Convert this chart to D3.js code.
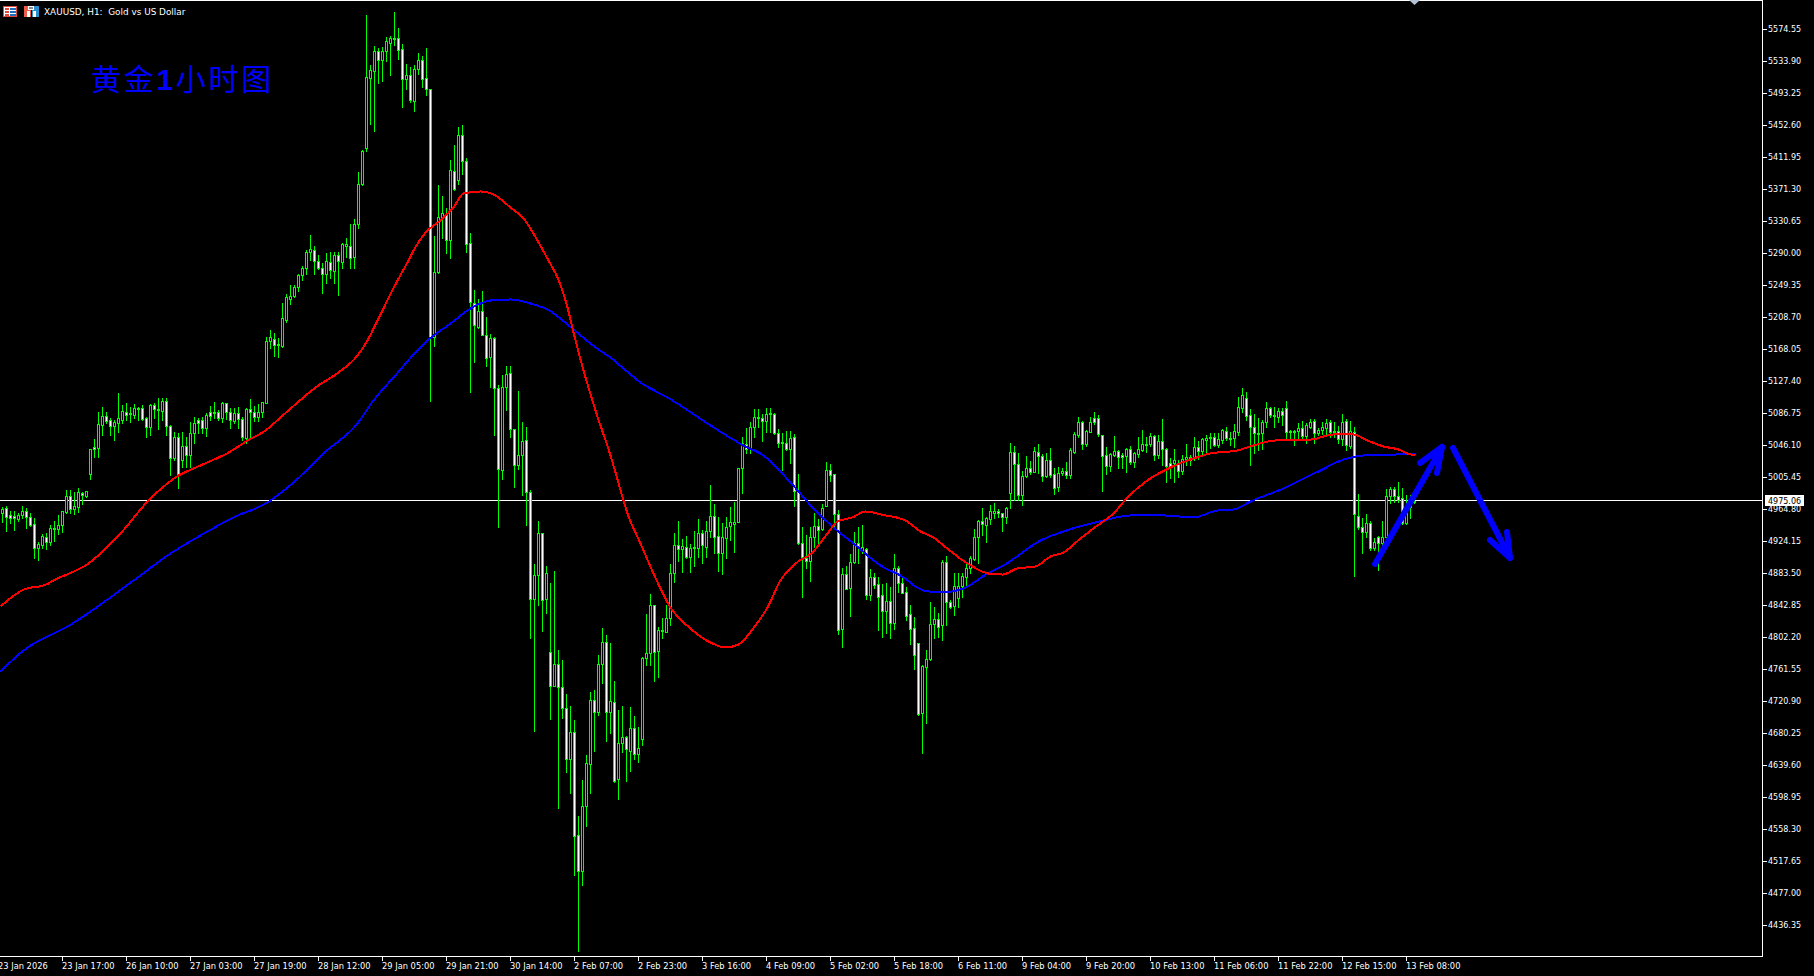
<!DOCTYPE html>
<html><head><meta charset="utf-8">
<script src="https://cdn.jsdelivr.net/npm/d3@7"></script>
<style>
html,body{margin:0;padding:0;background:#000;overflow:hidden}
svg{display:block}
text{font-family:"DejaVu Sans",sans-serif;font-size:8px;fill:#fff}
</style></head><body>
<svg id="c" width="1814" height="976"></svg>
<script>
const chartTitle = "XAUUSD, H1:  Gold vs US Dollar";
const noteCn = ["黄金", "1", "小时图"];
const lastPrice = 4975.06;

const priceTicks = [5574.55,5533.90,5493.25,5452.60,5411.95,5371.30,5330.65,5290.00,5249.35,5208.70,5168.05,5127.40,5086.75,5046.10,5005.45,4964.80,4924.15,4883.50,4842.85,4802.20,4761.55,4720.90,4680.25,4639.60,4598.95,4558.30,4517.65,4477.00,4436.35];
const timeLabels = ["23 Jan 2026","23 Jan 17:00","26 Jan 10:00","27 Jan 03:00","27 Jan 19:00","28 Jan 12:00","29 Jan 05:00","29 Jan 21:00","30 Jan 14:00","2 Feb 07:00","2 Feb 23:00","3 Feb 16:00","4 Feb 09:00","5 Feb 02:00","5 Feb 18:00","6 Feb 11:00","9 Feb 04:00","9 Feb 20:00","10 Feb 13:00","11 Feb 06:00","11 Feb 22:00","12 Feb 15:00","13 Feb 08:00"];
const timeBars = [-1,15,31,47,63,79,95,111,127,143,159,175,191,207,223,239,255,271,287,303,319,335,351];

const opens = [
4960,4966,4957,4956,4952,4957,4962,4955,4946,4915,
4919,4929,4923,4941,4939,4945,4961,4981,4965,4967,
4985,4981,5009,5044,5042,5072,5083,5078,5070,5074,
5078,5088,5086,5084,5092,5093,5080,5069,5097,5091,
5089,5102,5070,5030,5056,5027,5045,5033,5061,5078,
5078,5068,5088,5087,5088,5080,5099,5088,5077,5087,
5079,5055,5092,5088,5082,5088,5099,5178,5181,5173,
5172,5205,5232,5235,5247,5262,5271,5291,5294,5280,
5271,5263,5279,5267,5287,5279,5299,5299,5285,5327,
5378,5423,5512,5521,5547,5535,5547,5557,5562,5563,
5549,5511,5516,5483,5524,5535,5512,5498,5183,5266,
5336,5340,5307,5394,5383,5440,5407,5303,5227,5196,
5216,5186,5158,5182,5118,5014,5120,5138,5066,5021,
5033,5052,4986,4850,4881,4934,4850,4783,4740,4768,
4739,4712,4647,4682,4551,4505,4588,4641,4722,4707,
4768,4796,4707,4720,4622,4668,4675,4657,4687,4654,
4673,4776,4782,4843,4784,4810,4809,4826,4884,4919,
4914,4917,4904,4915,4915,4934,4917,4937,4956,4930,
4909,4928,4943,4946,4948,5017,5047,5042,5069,5080,
5080,5077,5086,5086,5061,5049,5049,5041,5056,4986,
4922,4903,4899,4929,4943,4939,4969,5014,5009,4958,
4812,4882,4864,4898,4922,4913,4914,4856,4878,4870,
4856,4835,4848,4820,4890,4871,4859,4831,4814,4795,
4706,4764,4774,4819,4825,4817,4897,4847,4842,4852,
4867,4878,4890,4901,4929,4950,4945,4952,4960,4962,
4960,4955,4985,5037,5022,4983,5007,5017,5012,5037,
5032,5007,5027,5009,4993,5011,5013,5008,5037,5059,
5075,5047,5063,5080,5080,5059,5033,5019,5033,5039,
5033,5032,5041,5025,5035,5040,5046,5047,5058,5033,
5051,5041,5023,5023,5023,5013,5028,5031,5030,5044,
5039,5052,5055,5056,5046,5052,5064,5055,5055,5063,
5093,5106,5084,5069,5060,5061,5075,5093,5084,5082,
5089,5093,5063,5064,5064,5068,5058,5069,5077,5061,
5065,5068,5075,5063,5064,5054,5077,5045,5063,4956,
4942,4936,4947,4915,4929,4922,4929,4981,4990,4981,
4979,4947,4967,4974];
const highs = [
4967,4969,4962,4962,4960,4969,4966,4960,4953,4923,
4933,4934,4945,4950,4957,4962,4989,4989,4986,4991,
4986,4988,5041,5054,5088,5094,5088,5080,5078,5112,
5097,5099,5094,5098,5094,5097,5082,5098,5099,5106,
5106,5106,5072,5063,5061,5063,5056,5075,5082,5080,
5082,5087,5096,5101,5091,5101,5099,5093,5093,5094,
5082,5093,5105,5096,5098,5101,5183,5192,5188,5182,
5227,5238,5249,5249,5263,5273,5294,5313,5299,5287,
5277,5290,5291,5291,5291,5303,5309,5327,5333,5393,
5421,5592,5529,5553,5550,5552,5564,5566,5596,5576,
5556,5530,5526,5529,5544,5540,5550,5498,5312,5376,
5362,5347,5408,5427,5450,5453,5411,5315,5243,5232,
5242,5209,5187,5183,5122,5135,5146,5146,5066,5115,
5075,5069,4989,4895,4950,4934,4892,4871,4886,4786,
4773,4730,4715,4697,4575,4621,4652,4732,4735,4779,
4814,4805,4795,4746,4710,4715,4676,4713,4702,4688,
4777,4831,4857,4843,4815,4826,4843,4895,4934,4950,
4927,4931,4920,4937,4952,4938,4950,4995,4971,4955,
4947,4955,4967,4974,5017,5056,5068,5075,5092,5092,
5086,5093,5093,5087,5066,5061,5064,5064,5060,5009,
4942,4932,4942,4960,4952,4971,5025,5022,5009,4964,
4890,4892,4908,4936,4942,4945,4915,4889,4884,4878,
4870,4871,4866,4908,4892,4877,4866,4843,4828,4795,
4767,4786,4847,4840,4833,4900,4905,4849,4884,4884,
4884,4895,4905,4939,4951,4966,4955,4970,4972,4965,
4960,4967,5049,5045,5036,5013,5032,5026,5044,5047,
5035,5036,5042,5017,5018,5017,5025,5042,5063,5082,
5077,5065,5082,5088,5084,5059,5044,5036,5058,5040,
5036,5042,5045,5037,5056,5065,5056,5061,5059,5059,
5079,5042,5030,5041,5027,5033,5047,5033,5056,5051,
5055,5059,5061,5061,5061,5066,5069,5063,5073,5107,
5118,5113,5092,5086,5080,5078,5101,5094,5094,5093,
5093,5102,5065,5065,5074,5077,5074,5079,5079,5068,
5075,5079,5078,5075,5070,5086,5079,5077,5069,4984,
4953,4958,4950,4928,4931,4950,4990,4993,4993,4999,
4991,4983,4983,4983];
const lows = [
4948,4937,4947,4938,4950,4953,4941,4943,4903,4900,
4915,4914,4919,4924,4933,4936,4960,4960,4958,4961,
4971,4980,5003,5031,5031,5059,5074,5059,5052,5063,
5074,5078,5075,5080,5078,5078,5056,5059,5080,5066,
5078,5059,5008,5027,4991,5018,5018,5018,5049,5061,
5061,5058,5078,5080,5078,5075,5079,5068,5074,5068,
5052,5049,5056,5077,5077,5082,5099,5169,5159,5158,
5171,5202,5225,5234,5242,5256,5263,5281,5263,5270,
5239,5252,5258,5252,5237,5271,5285,5271,5271,5322,
5376,5420,5454,5445,5506,5508,5534,5516,5554,5536,
5475,5498,5482,5470,5517,5501,5491,5102,5172,5265,
5309,5290,5284,5370,5378,5390,5291,5113,5152,5195,
5186,5146,5120,5059,4942,5003,5091,5056,4993,5016,
4983,4945,4801,4683,4843,4810,4833,4698,4740,4585,
4699,4631,4604,4500,4403,4487,4562,4604,4657,4703,
4744,4670,4680,4618,4596,4656,4619,4632,4647,4643,
4665,4767,4767,4746,4751,4801,4809,4817,4872,4899,
4885,4903,4885,4892,4904,4896,4904,4929,4909,4886,
4882,4903,4925,4910,4948,4985,5036,5036,5056,5069,
5051,5063,5063,5060,5044,5014,5040,5023,4969,4920,
4853,4890,4873,4917,4922,4938,4969,5000,4942,4806,
4790,4863,4829,4896,4896,4909,4850,4849,4864,4811,
4802,4807,4801,4812,4859,4858,4824,4793,4762,4703,
4655,4693,4773,4801,4802,4798,4817,4839,4830,4840,
4853,4866,4884,4900,4896,4932,4923,4946,4953,4955,
4937,4947,4966,4976,4976,4970,5006,5009,5012,5011,
5000,5006,5006,4984,4988,5008,5004,5004,5036,5056,
5041,5045,5063,5073,5058,4988,5009,5013,5032,5017,
5017,5012,5022,5018,5031,5039,5037,5045,5027,5030,
5021,4999,5004,4999,5006,5009,5021,5021,5027,5028,
5033,5036,5042,5045,5044,5049,5052,5046,5044,5059,
5088,5078,5021,5036,5040,5041,5069,5082,5069,5075,
5072,5052,5055,5046,5052,5055,5049,5068,5049,5059,
5060,5059,5056,5056,5049,5046,5040,5042,4880,4939,
4909,4929,4913,4913,4887,4913,4929,4972,4974,4974,
4946,4946,4953,4972];
const closes = [
4965,4955,4953,4953,4957,4962,4955,4945,4915,4920,
4931,4923,4941,4939,4945,4962,4981,4965,4969,4986,
4983,4988,5041,5041,5073,5083,5077,5070,5075,5080,
5089,5084,5087,5093,5093,5079,5069,5097,5092,5092,
5102,5070,5030,5056,5008,5045,5033,5061,5074,5074,
5068,5084,5083,5088,5080,5099,5088,5078,5087,5079,
5056,5092,5088,5082,5088,5101,5178,5183,5173,5174,
5207,5234,5235,5247,5262,5271,5291,5295,5280,5271,
5263,5280,5268,5287,5280,5301,5301,5284,5327,5378,
5420,5514,5522,5547,5535,5547,5559,5563,5563,5548,
5511,5516,5484,5524,5535,5511,5498,5183,5266,5336,
5341,5307,5395,5371,5440,5407,5301,5228,5199,5216,
5186,5157,5182,5118,5016,5120,5136,5066,5021,5033,
5051,4986,4850,4881,4934,4849,4884,4740,4768,4739,
4712,4647,4682,4549,4505,4588,4642,4722,4707,4768,
4796,4707,4721,4619,4668,4675,4660,4687,4654,4661,
4776,4782,4843,4783,4811,4811,4826,4884,4919,4914,
4918,4904,4915,4916,4934,4919,4937,4956,4929,4909,
4929,4942,4948,4948,5017,5049,5041,5069,5082,5082,
5077,5086,5087,5061,5049,5050,5041,5055,4988,4922,
4904,4899,4929,4943,4938,4966,5014,5008,4958,4811,
4882,4863,4898,4922,4917,4917,4856,4878,4868,4853,
4835,4848,4820,4890,4871,4858,4829,4812,4779,4704,
4765,4774,4819,4825,4815,4897,4847,4840,4867,4867,
4880,4890,4903,4929,4950,4946,4953,4962,4962,4960,
4955,4966,5037,5022,4983,5007,5017,5012,5039,5032,
5007,5027,5008,4991,5011,5013,5008,5040,5060,5075,
5047,5064,5075,5075,5060,5032,5019,5035,5039,5031,
5031,5041,5025,5036,5041,5047,5047,5058,5033,5051,
5041,5019,5019,5027,5013,5028,5031,5027,5044,5039,
5054,5055,5056,5046,5054,5065,5055,5054,5064,5094,
5110,5083,5069,5061,5061,5075,5093,5084,5083,5089,
5084,5063,5064,5063,5068,5058,5072,5075,5061,5065,
5069,5074,5063,5064,5054,5075,5046,5064,4958,4942,
4936,4947,4915,4923,4922,4929,4981,4990,4981,4976,
4947,4967,4974,4975.06];

const redBars = [-0.5,5.25,11,12.75,21.5,24.5,29.5,36.5,40,43.25,49.5,57,61.25,65.75,69.5,73.75,78.25,84,88.75,91.25,93.75,98.75,101.5,102.75,106,109.5,112.75,115.25,119.5,122.75,127,130.25,133.75,136.5,138.75,141.25,142.75,145.25,148.25,152,155.25,156,159.5,162.75,167,172,176.5,180.75,184,187.5,191.25,194.5,198.25,202.5,206.25,208.75,212.5,215.75,219.5,225.75,229.5,232.75,235.25,241.25,246.5,250,253.75,258.25,262,265.25,269.5,273.75,277.75,281.25,286.25,292,297.75,302,308.75,312.75,316.5,321.25,327,332.75,337.75,341.25,345.25,349,351.25,353.25];
const redValues = [4841.6,4863,4869.6,4874.6,4896.2,4908.9,4934.3,4976.2,4992.8,5005.5,5020.7,5038.5,5052.4,5065.2,5081.7,5100.7,5119.8,5138.8,5160.4,5179.5,5204.9,5255.7,5281.1,5293.8,5318,5332,5348.4,5366.2,5368.8,5365,5348.4,5334.5,5306.5,5281.1,5259.5,5221.4,5189.7,5141.4,5090.6,5033.4,4976.2,4963.5,4921.6,4883.5,4840.3,4813.6,4797.1,4789.5,4793.3,4812.4,4840.3,4874.6,4896.2,4910.2,4934.3,4949.6,4954.7,4962.3,4958.5,4950.8,4936.9,4929.2,4919.1,4896.2,4883.5,4882.2,4889.9,4892.4,4905.1,4910.2,4928,4944.5,4959.8,4980.1,5001.8,5018.2,5029.6,5036,5039.8,5046.1,5051.2,5053.7,5053.7,5060.1,5060.1,5052.4,5044.8,5041,5035.9,5033.4];
const blueBars = [-0.5,5.25,16.75,32.75,41.25,49.5,57.75,66.25,72.75,80.25,88.75,92.75,97.75,106.25,112,117,122,127,132,136.25,142.5,148.25,152,155.25,159.5,166.25,169.5,176.25,185.25,190.25,197,202.75,207.75,212.75,219.5,224.5,230.25,234.5,240.25,246.25,250.25,259.5,265.25,275.25,282,290.25,297.75,303.75,307.75,312,320.25,329.5,335.25,340.25,349,353.25];
const blueValues = [4759,4785.7,4817.5,4874.6,4906.4,4931.8,4954.7,4973.7,4999.1,5036,5074.1,5103.3,5132.5,5179.5,5201,5220.1,5230.3,5231.6,5226.5,5218.9,5194.7,5170.6,5157.9,5143.9,5126.2,5107.1,5096.9,5074.1,5046.1,5033.4,4999.1,4966.1,4942,4921.6,4893.7,4881,4861.9,4859.4,4864.4,4883.5,4893.7,4925.4,4936.9,4950.8,4957.2,4957.2,4954.7,4963.5,4964.8,4975,4991.5,5014.4,5028.3,5033.4,5034.7,5034.7];

const arrowUp = [[343.25,4895],[360,5043.6]];
const arrowUpHead = [[354.5,5023.2],[360,5043.6],[358.75,5010.5]];
const arrowDown = [[362.75,5042.3],[377,4902.6]];
const arrowDownHead = [[372,4925.4],[377,4902.6],[376.25,4935.6]];

const svg = d3.select("#c");
const x = d3.scaleLinear().domain([0,1]).range([2,6]);
const y = d3.scaleLinear().domain([priceTicks[0],priceTicks[priceTicks.length-1]]).range([29,925]);
const ry = v => Math.round(y(v));
const GREEN = "#00ff00";

const bars = d3.range(opens.length);

// frame + last price line (behind the candles)
const frame = svg.append("g").attr("shape-rendering","crispEdges");
frame.append("rect").attr("x",0).attr("y",0).attr("width",1763).attr("height",1).attr("fill","#fff");
frame.append("rect").attr("x",1762).attr("y",0).attr("width",1).attr("height",957).attr("fill","#fff");
frame.append("rect").attr("x",0).attr("y",956).attr("width",1763).attr("height",1).attr("fill","#fff");
frame.append("rect").attr("x",0).attr("y",ry(lastPrice)-1).attr("width",1762).attr("height",1).attr("fill","#fff");

// candles
const cg = svg.append("g").attr("shape-rendering","crispEdges");
cg.selectAll("rect.w").data(bars).join("rect").attr("class","w")
  .attr("x",i=>x(i)).attr("width",1)
  .attr("y",i=>ry(highs[i])).attr("height",i=>ry(lows[i])-ry(highs[i])+1)
  .attr("fill",GREEN);
const top_ = i=>ry(Math.max(opens[i],closes[i]));
const bot_ = i=>ry(Math.min(opens[i],closes[i]));
cg.selectAll("rect.b").data(bars).join("rect").attr("class","b")
  .attr("x",i=>x(i)-1).attr("width",3)
  .attr("y",top_).attr("height",i=>bot_(i)-top_(i)+1)
  .attr("fill",GREEN);
cg.selectAll("rect.f").data(bars.filter(i=>bot_(i)-top_(i)>1)).join("rect").attr("class","f")
  .attr("x",i=>x(i)).attr("width",1)
  .attr("y",i=>top_(i)+1).attr("height",i=>bot_(i)-top_(i)-1)
  .attr("fill",i=>closes[i]<opens[i]?"#ffffff":"#000000");

// moving averages
const ma = d3.line().x(d=>x(d[0])+.5).y(d=>y(d[1])+.5).curve(d3.curveMonotoneX);
svg.append("path").attr("d",ma(d3.zip(blueBars,blueValues))).attr("fill","none").attr("stroke","#0000ff").attr("stroke-width",2).attr("shape-rendering","crispEdges");
svg.append("path").attr("d",ma(d3.zip(redBars,redValues))).attr("fill","none").attr("stroke","#ff0000").attr("stroke-width",2).attr("shape-rendering","crispEdges");

// hand-drawn arrows
const al = d3.line().x(d=>x(d[0])).y(d=>y(d[1]));
[arrowUp,arrowUpHead,arrowDown,arrowDownHead].forEach(a=>{
  svg.append("path").attr("d",al(a)).attr("fill","none").attr("stroke","#0000ff").attr("stroke-width",6)
    .attr("stroke-linecap","round").attr("stroke-linejoin","round");
});

// axes
const ax = d3.axisBottom(x).tickValues(timeBars).tickFormat((d,i)=>timeLabels[i]).tickSizeInner(5).tickSizeOuter(0).tickPadding(2);
const gx = svg.append("g").attr("transform","translate(0,956)").call(ax);
gx.select(".domain").remove();
gx.selectAll("line").attr("stroke","#fff").attr("shape-rendering","crispEdges");
gx.selectAll("text").attr("text-anchor","start").attr("fill","#fff").attr("font-family",null).attr("font-size",null).attr("dy",null).attr("y",13).attr("x",-0.5).style("font-size","8.3px");

const ay = d3.axisRight(y).tickValues(priceTicks).tickFormat(d3.format(".2f")).tickSizeInner(5).tickSizeOuter(0).tickPadding(1);
const gy = svg.append("g").attr("transform","translate(1762,0)").call(ay);
gy.select(".domain").remove();
gy.selectAll("line").attr("stroke","#fff").attr("shape-rendering","crispEdges");
gy.selectAll("text").attr("fill","#fff").attr("font-family",null).attr("font-size",null);

// last price tag
svg.append("rect").attr("x",1765).attr("y",ry(lastPrice)-6).attr("width",39).attr("height",11).attr("fill","#fff");
svg.append("text").attr("x",1768).attr("y",ry(lastPrice)+2.5).style("fill","#000").text(d3.format(".2f")(lastPrice));

// shift marker on top edge
svg.append("path").attr("d",`M${x(353)-5},0L${x(353)+6},0L${x(353)+.5},5Z`).attr("fill","#b4c0d4");

// header icons
const ic = svg.append("g").attr("shape-rendering","crispEdges");
ic.append("rect").attr("x",3.5).attr("y",6.5).attr("width",13).attr("height",10).attr("fill","#fff").attr("stroke","#e04a3a");
[9,12,15].forEach(v=>{ic.append("rect").attr("x",5).attr("y",v-1).attr("width",4).attr("height",2).attr("fill","#e04a3a");
 ic.append("rect").attr("x",10).attr("y",v-1).attr("width",6).attr("height",2).attr("fill","#1a6fc0");});
ic.append("rect").attr("x",24).attr("y",6).attr("width",7).attr("height",11).attr("fill","#ef5b4a");
ic.append("rect").attr("x",32).attr("y",6).attr("width",7).attr("height",11).attr("fill","#2a8fd0");
ic.append("rect").attr("x",28).attr("y",6).attr("width",6).attr("height",4).attr("fill","#fff");
ic.append("rect").attr("x",29).attr("y",7).attr("width",4).attr("height",2).attr("fill","#888");
ic.append("rect").attr("x",27).attr("y",11).attr("width",3).attr("height",6).attr("fill","#fff");
ic.append("rect").attr("x",33).attr("y",11).attr("width",3).attr("height",6).attr("fill","#fff");

svg.append("text").attr("x",44).attr("y",14.5).attr("xml:space","preserve").style("white-space","pre").style("font-size","8.9px").text(chartTitle);

// Chinese note
const note = svg.append("text").attr("x",91).attr("y",90)
  .style("font-family",'"Noto Sans CJK SC"').style("font-size","30px").style("fill","#0000ff").style("letter-spacing","2.7px");
note.append("tspan").text(noteCn[0]);
note.append("tspan").style("font-weight","bold").style("font-family",'"Liberation Sans"').text(noteCn[1]);
note.append("tspan").text(noteCn[2]);
</script>
</body></html>
